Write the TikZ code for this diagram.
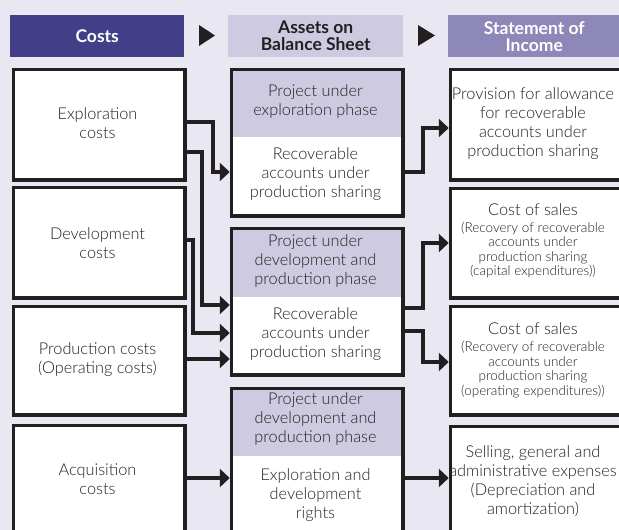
\documentclass[tikz,border=0pt]{standalone}
\usepackage{fontspec}
\setmainfont{Lato Light}[BoldFont={Lato Bold}]
\usetikzlibrary{arrows.meta}
\definecolor{bgc}{HTML}{E8E7F2}
\definecolor{hdA}{HTML}{433E88}
\definecolor{hdB}{HTML}{CDCAE1}
\definecolor{hdC}{HTML}{8E88B8}
\definecolor{ink}{HTML}{231F20}
\begin{document}
\begin{tikzpicture}[x=1pt,y=-1pt,
  frame/.style={draw=ink,line width=3.5pt,fill=white,inner sep=0pt,anchor=north west},
  split/.style={path picture={\fill[hdB] (path picture bounding box.north west) rectangle ([yshift=-#1]path picture bounding box.north east);}},
  hdr/.style={inner sep=0pt,anchor=north west,minimum height=42pt,align=center,font=\fontsize{17.5}{17}\selectfont\bfseries},
  big/.style={align=center,text=ink,font=\fontsize{16.3}{19}\selectfont},
  sml/.style={align=center,text=ink,font=\fontsize{13.5}{14.5}\selectfont},
  conn/.style={draw=ink,line width=3.5pt,-{Triangle[length=10pt,width=18pt]}},
]
\useasboundingbox (0,0) rectangle (619,530);
\clip (0,0) rectangle (619,530);
\fill[bgc] (0,0) rectangle (619,530);

% headers
\node[hdr,fill=hdA,text=white,minimum width=174pt] (hA) at (10,15) {Costs};
\node[hdr,fill=hdB,text=ink,minimum width=175pt] (hB) at (228,15) {Assets on\\Balance Sheet};
\node[hdr,fill=hdC,text=white,minimum width=172pt] (hC) at (448,15) {Statement of\\Income};
\fill[ink] (199,25) -- (215,35.5) -- (199,46) -- cycle;
\fill[ink] (418,25) -- (435,35.5) -- (418,46) -- cycle;

% left column
\node[frame,minimum width=171.5pt,minimum height=110.5pt] (L1) at (11.75,67.75) {};
\node[frame,minimum width=171.5pt,minimum height=110.5pt] (L2) at (11.75,185.75) {};
\node[frame,minimum width=171.5pt,minimum height=108.5pt] (L3) at (11.75,304.75) {};
\node[frame,minimum width=171.5pt,minimum height=130pt] (L4) at (11.75,423.75) {};
\node[big] (tL1) at (97.5,123) {Exploration\\costs};
\node[big] (tL2) at (97.5,243) {Development\\costs};
\node[big] (tL3) at (97.5,360) {Production costs\\(Operating costs)};
\node[big] (tL4) at (97.5,479) {Acquisition\\costs};

% middle column
\node[frame,split=67.25pt,minimum width=171.5pt,minimum height=146.5pt] (M1) at (229.75,67.75) {};
\node[frame,split=68.25pt,minimum width=171.5pt,minimum height=146.5pt] (M2) at (229.75,226.75) {};
\node[frame,split=67.25pt,minimum width=171.5pt,minimum height=160pt] (M3) at (229.75,386.75) {};
\node[big] (tM1a) at (315.5,101.5) {Project under\\exploration phase};
\node[big] (tM1b) at (315.5,174) {Recoverable\\accounts under\\production sharing};
\node[big] (tM2a) at (315.5,261) {Project under\\development and\\production phase};
\node[big] (tM2b) at (315.5,334.5) {Recoverable\\accounts under\\production sharing};
\node[big] (tM3a) at (315.5,419.5) {Project under\\development and\\production phase};
\node[big] (tM3b) at (315.5,495) {Exploration and\\development\\rights};

% right column
\node[frame,minimum width=180pt,minimum height=110.5pt] (R1) at (448.75,67.75) {};
\node[frame,minimum width=180pt,minimum height=109.5pt] (R2) at (448.75,186.75) {};
\node[frame,minimum width=180pt,minimum height=108.5pt] (R3) at (448.75,304.75) {};
\node[frame,minimum width=180pt,minimum height=130pt] (R4) at (448.75,424.75) {};
\node[big] (tR1) at (533,123.5) {Provision for allowance\\for recoverable\\accounts under\\production sharing};
\node[sml] (tR2) at (533,241) {{\fontsize{16.3}{19}\selectfont Cost of sales}\\[2.5pt](Recovery of recoverable\\accounts under\\production sharing\\(capital expenditures))};
\node[sml] (tR3) at (533,360.5) {{\fontsize{16.3}{19}\selectfont Cost of sales}\\[2.5pt](Recovery of recoverable\\accounts under\\production sharing\\(operating expenditures))};
\node[big] (tR4) at (533,481) {Selling, general and\\administrative expenses\\(Depreciation and\\amortization)};

% connectors left -> middle
\draw[conn] (L1.east |- 0,122) -| (213,172) -- (M1.west |- 0,172);
\draw[conn] (L1.east |- 0,152) -| (202,305) -- (M2.west |- 0,305);
\draw[conn] (L2.east |- 0,240) -| (193,333) -- (M2.west |- 0,333);
\draw[conn] (L3.east |- 0,359) -- (M2.west |- 0,359);
\draw[conn] (L4.east |- 0,478) -- (M3.west |- 0,478);

% connectors middle -> right
\draw[conn] (M1.east |- 0,172) -| (423,128) -- (R1.west |- 0,128);
\draw[conn] (M2.east |- 0,308) -| (423,243) -- (R2.west |- 0,243);
\draw[conn] (M2.east |- 0,331) -| (423,362) -- (R3.west |- 0,362);
\draw[conn] (M3.east |- 0,478) -- (R4.west |- 0,478);
\end{tikzpicture}
\end{document}
